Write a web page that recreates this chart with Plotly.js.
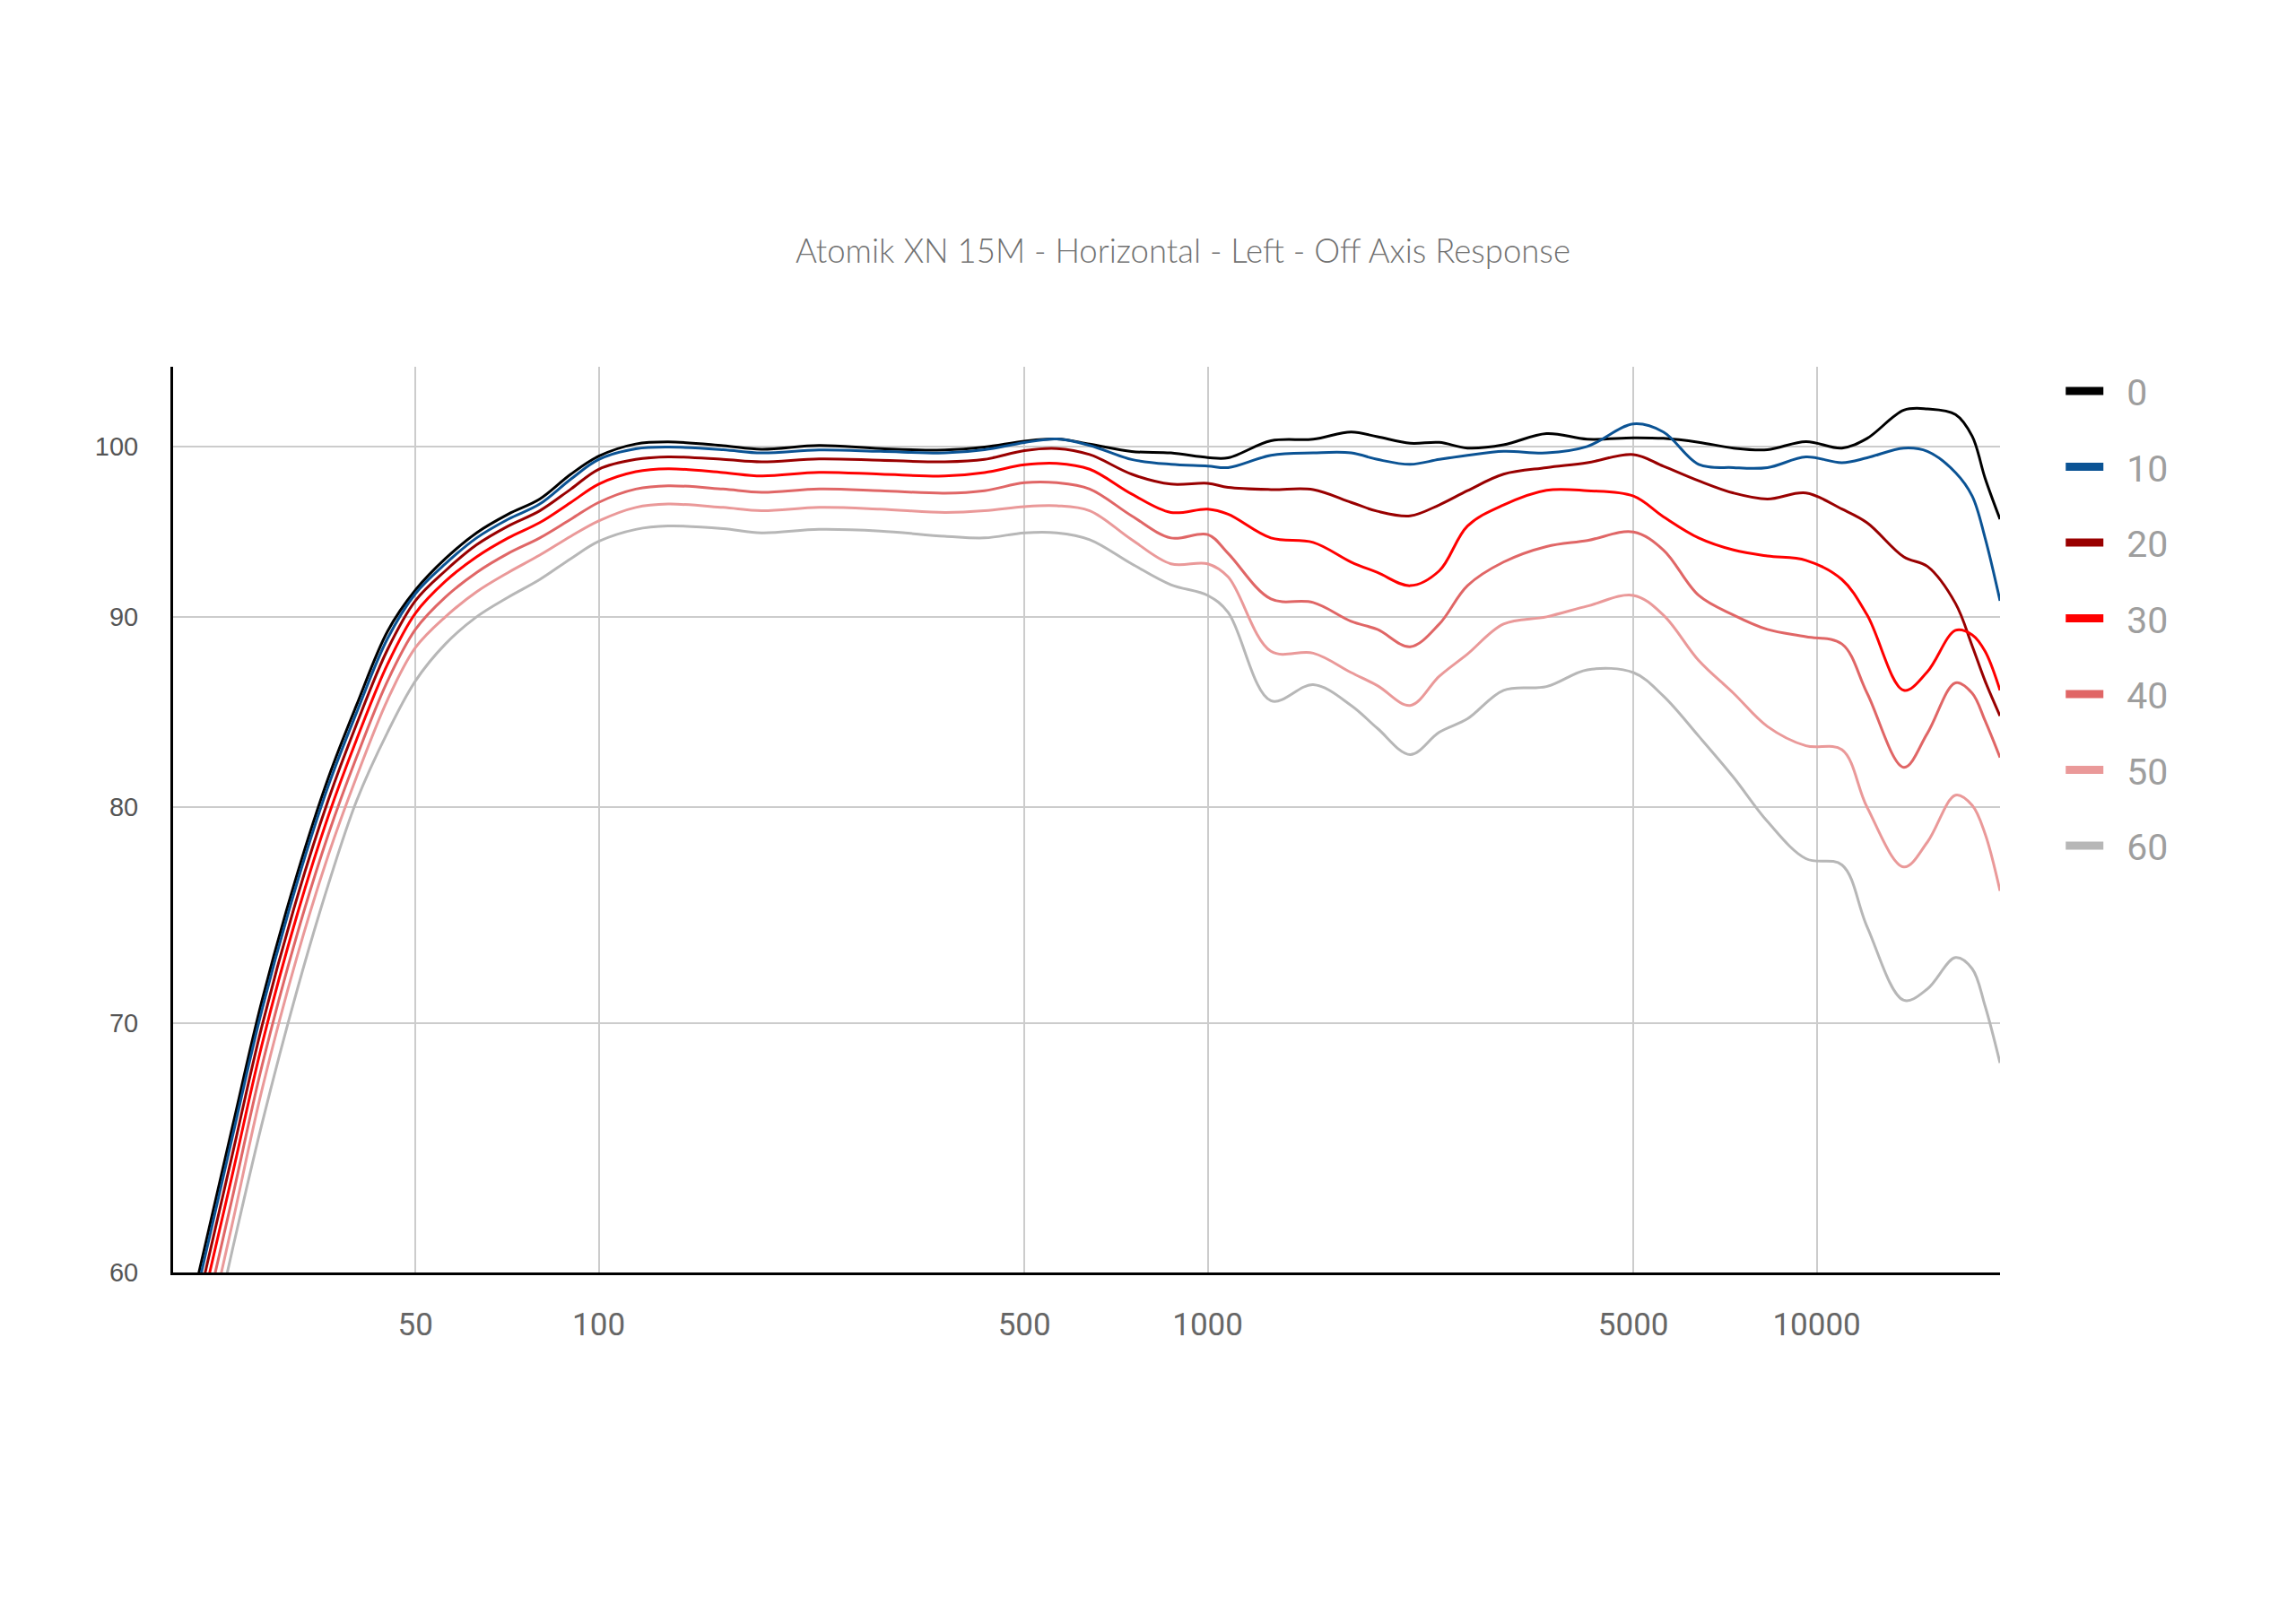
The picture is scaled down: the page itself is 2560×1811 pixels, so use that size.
<!DOCTYPE html>
<html>
<head>
<meta charset="utf-8">
<script src="https://cdn.plot.ly/plotly-3.0.1.min.js"></script>
<style>
  html, body { margin: 0; padding: 0; background: #fff; }
  #chart { width: 2560px; height: 1811px; }
</style>
</head>
<body>
<div id="chart"></div>
<script>
// frequency grid (Hz) shared by all angles
var freqHz = [22, 25, 28, 32, 36, 40, 45, 50, 56, 63,
  71, 80, 90, 100, 115, 130, 160, 185, 230, 290,
  370, 430, 500, 565, 640, 750, 870, 1000, 1080, 1270,
  1490, 1720, 1900, 2150, 2400, 2670, 3060, 3600, 4200, 5000,
  5600, 6400, 7300, 8300, 9600, 11000, 12100, 13900, 15200, 16900,
  18000, 18900, 20000];

// SPL (dB) per off-axis angle
var spl0 = [59.9, 65.6, 71.0, 76.8, 81.5, 85.2, 89.2, 91.5, 93.3, 94.8,
  95.9, 96.8, 98.3, 99.4, 100.15, 100.28, 100.05, 99.83, 100.06, 99.87,
  99.78, 99.96, 100.33, 100.46, 100.15, 99.69, 99.6, 99.32, 99.3, 100.35,
  100.45, 100.9, 100.6, 100.2, 100.25, 99.9, 100.1, 100.8, 100.45, 100.54,
  100.5, 100.26, 99.9, 99.8, 100.3, 99.9, 100.5, 102.27, 102.35, 102.0,
  100.64, 98.06, 95.6];
var spl10 = [59.5, 65.2, 70.6, 76.4, 81.1, 84.8, 88.8, 91.3, 93.0, 94.5,
  95.6, 96.5, 98.0, 99.2, 99.85, 99.96, 99.8, 99.6, 99.78, 99.7,
  99.6, 99.8, 100.24, 100.46, 100.06, 99.2, 98.9, 98.8, 98.7, 99.45,
  99.6, 99.6, 99.2, 98.9, 99.2, 99.45, 99.7, 99.6, 100.0, 101.4,
  100.9, 98.9, 98.7, 98.7, 99.35, 99.0, 99.3, 99.9, 99.7, 98.4,
  96.98, 94.5, 90.9];
var spl20 = [58.9, 64.5, 69.9, 75.7, 80.4, 84.2, 88.2, 90.9, 92.6, 94.1,
  95.2, 96.1, 97.4, 98.6, 99.2, 99.36, 99.2, 99.05, 99.23, 99.15,
  99.05, 99.2, 99.74, 99.87, 99.5, 98.3, 97.7, 97.75, 97.5, 97.37,
  97.37, 96.6, 96.07, 95.8, 96.45, 97.3, 98.3, 98.7, 99.0, 99.5,
  98.79, 97.9, 97.16, 96.8, 97.16, 96.2, 95.39, 93.4, 92.85, 90.75,
  88.4, 86.5, 84.65];
var spl30 = [58.2, 63.7, 69.1, 74.9, 79.6, 83.4, 87.4, 90.2, 92.0, 93.4,
  94.5, 95.4, 96.6, 97.7, 98.45, 98.63, 98.4, 98.19, 98.41, 98.3,
  98.19, 98.4, 98.87, 98.96, 98.6, 97.1, 96.0, 96.2, 95.9, 94.5,
  94.24, 93.1, 92.5, 91.75, 92.6, 95.2, 96.45, 97.33, 97.3, 96.98,
  95.75, 94.5, 93.8, 93.45, 93.2, 92.1, 90.1, 86.0, 87.0, 89.25,
  89.0, 88.1, 86.0];
var spl40 = [57.3, 62.8, 68.2, 74.0, 78.7, 82.5, 86.5, 89.3, 91.1, 92.5,
  93.6, 94.5, 95.6, 96.6, 97.4, 97.6, 97.4, 97.2, 97.4, 97.3,
  97.15, 97.3, 97.78, 97.78, 97.4, 95.8, 94.5, 94.7, 93.6, 91.0,
  90.8, 89.75, 89.3, 88.35, 89.6, 91.75, 93.1, 94.0, 94.35, 94.85,
  93.8, 91.2, 90.1, 89.3, 88.9, 88.5, 85.85, 82.0, 83.75, 86.4,
  85.85, 84.4, 82.5];
var spl50 = [56.3, 61.8, 67.2, 73.0, 77.7, 81.5, 85.5, 88.3, 90.0, 91.4,
  92.5, 93.5, 94.6, 95.5, 96.3, 96.5, 96.3, 96.1, 96.3, 96.2,
  96.0, 96.1, 96.35, 96.4, 96.1, 94.4, 93.0, 93.0, 92.25, 88.1,
  88.0, 86.95, 86.25, 85.2, 86.75, 87.95, 89.6, 90.0, 90.6, 91.2,
  90.1, 87.6, 85.85, 84.1, 83.1, 82.9, 80.0, 77.1, 78.3, 80.6,
  80.1, 78.7, 75.97];
var spl60 = [55.4, 60.8, 65.8, 71.5, 76.3, 80.3, 83.8, 86.5, 88.5, 90.0,
  91.1, 92.1, 93.3, 94.3, 95.0, 95.2, 95.05, 94.8, 95.0, 94.9,
  94.6, 94.5, 94.8, 94.8, 94.4, 93.0, 91.8, 91.2, 90.25, 85.45,
  86.3, 85.2, 84.0, 82.65, 83.8, 84.5, 86.0, 86.2, 87.1, 86.95,
  85.7, 83.6, 81.5, 79.3, 77.5, 77.2, 74.3, 71.0, 71.5, 72.9,
  72.4, 70.75, 68.3];

var angleLabels = ['0', '10', '20', '30', '40', '50', '60'];
var xTicks = [50, 100, 500, 1000, 5000, 10000];
var yTicks = [60, 70, 80, 90, 100];

var lineColors = ['#000000', '#0b5394', '#990000', '#ff0000', '#e06666', '#ea9999', '#b7b7b7'];
var series = [spl0, spl10, spl20, spl30, spl40, spl50, spl60];

var data = [];
series.forEach(function (vals, i) {
  data.push({
    x: freqHz,
    y: vals,
    type: 'scatter',
    mode: 'lines',
    line: {color: lineColors[i], width: 3, shape: 'spline', smoothing: 1},
    showlegend: false,
    hoverinfo: 'skip'
  });
});

// legend swatches only (thick keys like the original); en space pads text from key
angleLabels.forEach(function (lbl, i) {
  data.push({
    x: [null],
    y: [null],
    type: 'scatter',
    mode: 'lines',
    name: '\u2002' + lbl,
    legendgroup: 'g' + i,
    line: {color: lineColors[i], width: 9}
  });
});

var layout = {
  width: 2560,
  height: 1811,
  paper_bgcolor: '#ffffff',
  plot_bgcolor: '#ffffff',
  margin: {l: 193, r: 330, t: 409, b: 392, pad: 0},
  title: {
    text: 'Atomik XN 15M - Horizontal - Left - Off Axis Response',
    x: 0.5152,
    xanchor: 'center',
    y: 0.8454,
    yanchor: 'middle',
    font: {family: 'Lato', size: 36.5, color: '#707070', weight: 300}
  },
  xaxis: {
    type: 'log',
    range: [Math.log10(20), Math.log10(20000)],
    tickvals: xTicks,
    ticktext: xTicks.map(String),
    tickfont: {family: 'Roboto', size: 35, color: '#666666'},
    ticks: '',
    ticklabelstandoff: 25,
    showgrid: true,
    gridcolor: '#cccccc',
    gridwidth: 2,
    showline: true,
    linecolor: '#000000',
    linewidth: 3,
    zeroline: false,
    fixedrange: true
  },
  yaxis: {
    type: 'log',
    range: [Math.log10(60), 2.0214],
    tickvals: yTicks,
    ticktext: yTicks.map(String),
    tickfont: {family: 'Liberation Sans, Arial', size: 29, color: '#555555'},
    ticks: '',
    ticklabelstandoff: 30,
    showgrid: true,
    gridcolor: '#cccccc',
    gridwidth: 2,
    showline: true,
    linecolor: '#000000',
    linewidth: 3,
    zeroline: false,
    fixedrange: true
  },
  legend: {
    x: 1.0335,
    y: 1.006,
    xanchor: 'left',
    yanchor: 'top',
    font: {family: 'Roboto', size: 41, color: '#9e9e9e'},
    tracegroupgap: 28.2,
    itemwidth: 42,
    bgcolor: 'rgba(0,0,0,0)'
  },
  showlegend: true
};

Plotly.newPlot('chart', data, layout, {displayModeBar: false, staticPlot: true});
</script>
</body>
</html>
